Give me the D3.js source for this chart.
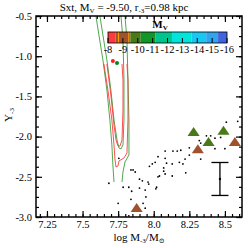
<!DOCTYPE html>
<html>
<head>
<script src="https://d3js.org/d3.v7.min.js"></script>
<style>
  body { margin: 0; background: #fff; }
  text { font-family: "Liberation Serif", "DejaVu Serif", serif; }
</style>
</head>
<body>
<div id="chart"></div>
<script>
// ========= Data ========= //
const xTicks = [7.25, 7.5, 7.75, 8.0, 8.25, 8.5];
const xTickLabels = ['7.25', '7.5', '7.75', '8.0', '8.25', '8.5'];
const yTicks = [-0.5, -1.0, -1.5, -2.0, -2.5, -3.0];
const yTickLabels = ['-0.5', '-1.0', '-1.5', '-2.0', '-2.5', '-3.0'];

// small black points (log M, Y)
const pointsX = [8.51, 8.59, 8.37, 8.40, 8.43, 8.47, 8.32, 8.33, 8.25, 8.19, 8.135, 8.165, 8.08, 8.25, 8.03, 8.08,
  8.22, 8.33, 8.43, 8.50, 8.01, 8.09, 8.13, 8.18, 8.205, 7.99, 7.97, 8.07, 8.07, 7.755, 7.84, 7.855, 7.87, 8.08,
  8.13, 8.225, 8.04, 8.03, 7.90, 7.92, 7.96, 7.965, 7.685, 7.785, 7.825, 7.845, 7.90, 7.94, 8.02, 8.015, 7.945,
  7.84, 7.75, 7.925, 7.94, 7.825];
const pointsY = [-1.82, -1.81, -1.99, -1.99, -2.02, -2.01, -2.05, -2.08, -2.14, -2.17, -2.18, -2.18, -2.18, -2.23, -2.25, -2.27,
  -2.28, -2.28, -2.15, -2.15, -2.32, -2.33, -2.34, -2.32, -2.34, -2.34, -2.37, -2.39, -2.43, -2.27, -2.415, -2.415, -2.44, -2.465,
  -2.49, -2.45, -2.49, -2.50, -2.53, -2.55, -2.565, -2.59, -2.58, -2.63, -2.63, -2.68, -2.64, -2.665, -2.63, -2.65, -2.75,
  -2.78, -2.83, -2.83, -2.89, -2.985];

// triangles
const triBrownX = [7.88, 8.31, 8.57];
const triBrownY = [-2.90, -2.17, -2.08];
const triGreenX = [8.28, 8.49, 8.385];
const triGreenY = [-1.955, -1.94, -2.08];

// error bar
const errX = 8.465, errY = -2.527, errHalf = 0.205;

// contour lines [x, y]
const greenOuterLeft = [[7.594, -0.5], [7.615, -0.736], [7.643, -1.047], [7.671, -1.42], [7.692, -1.794], [7.706, -2.104], [7.713, -2.353], [7.721, -2.565]];
const greenInner = [[7.622, -0.5], [7.643, -0.736], [7.671, -1.047], [7.699, -1.42], [7.721, -1.794], [7.742, -2.042], [7.756, -2.142], [7.770, -2.154], [7.784, -2.104], [7.791, -1.794], [7.791, -1.296], [7.784, -0.799], [7.770, -0.5]];
const greenOuterRight = [[7.798, -0.5], [7.812, -0.799], [7.819, -1.296], [7.826, -1.794], [7.826, -2.229], [7.798, -2.316], [7.784, -2.44], [7.777, -2.565]];
const redOuter = [[7.650, -1.097], [7.678, -1.42], [7.706, -1.794], [7.721, -2.104], [7.728, -2.291], [7.735, -2.378], [7.749, -2.366], [7.756, -2.303], [7.791, -2.266], [7.812, -2.204], [7.819, -1.794], [7.819, -1.296], [7.812, -1.097]];
const redInner = [[7.671, -1.097], [7.699, -1.483], [7.721, -1.856], [7.735, -2.042], [7.749, -2.117], [7.763, -2.117], [7.777, -2.042], [7.784, -1.669], [7.784, -1.296], [7.777, -1.097]];

const redDot = [7.713, -1.06];
const greenDot = [7.742, -1.085];

// colour bar
const cbTicks = [-8, -9, -10, -11, -12, -13, -14, -15, -16];
const cbStops = [-8, -8.5, -9.5, -10.2, -11.2, -12.3, -13.6, -14.6, -15.4, -16];
const cbColors = ['#ff3a3a', '#a0522d', '#4a7a18', '#12962a', '#00c48c', '#00e4dc', '#18c8f0', '#30a4ee', '#4064e0'];
const cbMarks = [-8.7, -9.4];

// ========= Setup ========= //
const width = 248, height = 248;
const margin = { left: 36, right: 6, top: 16, bottom: 31 };

const svg = d3.select('#chart').append('svg')
  .attr('width', width)
  .attr('height', height);

const x = d3.scaleLinear().domain([7.173, 8.62]).range([margin.left, width - margin.right]);
const y = d3.scaleLinear().domain([-0.5, -3.0]).range([margin.top, height - margin.bottom]);

const plotW = width - margin.left - margin.right;
const plotH = height - margin.top - margin.bottom;

svg.append('clipPath').attr('id', 'clip')
  .append('rect')
  .attr('x', margin.left).attr('y', margin.top)
  .attr('width', plotW).attr('height', plotH);

// ========= Contours ========= //
const line = d3.line().x(d => x(d[0])).y(d => y(d[1]));
const lines = svg.append('g').attr('clip-path', 'url(#clip)');
[[greenOuterLeft, '#3a9e3a'], [greenInner, '#3a9e3a'], [greenOuterRight, '#3a9e3a'],
 [redOuter, '#ff3c3c'], [redInner, '#ff3c3c']].forEach(([pts, c]) => {
  lines.append('path').attr('d', line(pts))
    .attr('fill', 'none').attr('stroke', c).attr('stroke-width', 0.9);
});

// ========= Colour bar ========= //
const cb = d3.scaleLinear().domain([-8, -16]).range([108, 227]);
const cbTop = 32, cbH = 11;
const cbG = svg.append('g');
cbColors.forEach((c, i) => {
  cbG.append('rect')
    .attr('x', cb(cbStops[i])).attr('y', cbTop)
    .attr('width', cb(cbStops[i + 1]) - cb(cbStops[i])).attr('height', cbH)
    .attr('fill', c);
});
cbMarks.forEach(v => {
  cbG.append('line').attr('x1', cb(v)).attr('x2', cb(v))
    .attr('y1', cbTop).attr('y2', cbTop + cbH)
    .attr('stroke', '#ffa500').attr('stroke-width', 1);
});
cbTicks.forEach(v => {
  cbG.append('line').attr('x1', cb(v)).attr('x2', cb(v))
    .attr('y1', cbTop + cbH).attr('y2', cbTop + cbH - 5)
    .attr('stroke', '#000').attr('stroke-width', 1);
  cbG.append('text').attr('x', cb(v)).attr('y', cbTop + cbH + 10)
    .attr('text-anchor', 'middle').attr('font-size', 10.5).text(v);
});
cbG.append('rect').attr('x', cb(-8)).attr('y', cbTop)
  .attr('width', cb(-16) - cb(-8)).attr('height', cbH)
  .attr('fill', 'none').attr('stroke', '#000').attr('stroke-width', 0.8);
const mvLabel = cbG.append('text').attr('x', 160).attr('y', 28)
  .attr('text-anchor', 'middle').attr('font-size', 11).attr('font-weight', 'bold');
mvLabel.append('tspan').text('M');
mvLabel.append('tspan').attr('font-size', 7).attr('dy', 2).text('V');

// dots near top of contours
svg.append('circle').attr('cx', x(redDot[0])).attr('cy', y(redDot[1])).attr('r', 2).attr('fill', '#ff2020');
svg.append('circle').attr('cx', x(greenDot[0])).attr('cy', y(greenDot[1])).attr('r', 2).attr('fill', '#008a20');

// ========= Points ========= //
svg.append('g').selectAll('circle')
  .data(pointsX.map((v, i) => [v, pointsY[i]]))
  .join('circle')
  .attr('cx', d => x(d[0])).attr('cy', d => y(d[1]))
  .attr('r', 0.9).attr('fill', '#000');

const tri = d3.symbol().type(d3.symbolTriangle).size(48);
function triangles(xs, ys, color) {
  svg.append('g').selectAll('path')
    .data(xs.map((v, i) => [v, ys[i]]))
    .join('path')
    .attr('d', tri)
    .attr('transform', d => `translate(${x(d[0])},${y(d[1])}) scale(1.15,1)`)
    .attr('fill', color);
}
triangles(triBrownX, triBrownY, '#a0522d');
triangles(triGreenX, triGreenY, '#4a7a18');

// ========= Error bar ========= //
const eb = svg.append('g').attr('stroke', '#000').attr('stroke-width', 1.3);
eb.append('line').attr('x1', x(errX)).attr('x2', x(errX)).attr('y1', y(errY + errHalf)).attr('y2', y(errY - errHalf));
eb.append('line').attr('x1', x(errX) - 8.5).attr('x2', x(errX) + 8.5).attr('y1', y(errY + errHalf)).attr('y2', y(errY + errHalf));
eb.append('line').attr('x1', x(errX) - 8.5).attr('x2', x(errX) + 8.5).attr('y1', y(errY - errHalf)).attr('y2', y(errY - errHalf));
svg.append('circle').attr('cx', x(errX)).attr('cy', y(errY)).attr('r', 1.2).attr('fill', '#000');

// ========= Axes ========= //
const xMinor = d3.range(7.2, 8.62, 0.05);
const yMinor = d3.range(-0.5, -3.01, -0.125);

function axisStyle(g) {
  g.select('.domain').remove();
  g.selectAll('line').attr('stroke', '#000').attr('stroke-width', 1.2);
  g.selectAll('text').attr('font-size', 10.5).attr('fill', '#000')
    .style('font-family', '"Liberation Serif", serif');
}

svg.append('g').attr('transform', `translate(0,${height - margin.bottom})`)
  .call(d3.axisBottom(x).tickValues(xMinor).tickSize(-3).tickFormat(''))
  .call(axisStyle);
svg.append('g').attr('transform', `translate(0,${margin.top})`)
  .call(d3.axisTop(x).tickValues(xMinor).tickSize(-3).tickFormat(''))
  .call(axisStyle);
svg.append('g').attr('transform', `translate(0,${height - margin.bottom})`)
  .call(d3.axisBottom(x).tickValues(xTicks).tickSize(-6).tickPadding(4).tickFormat((d, i) => xTickLabels[i]))
  .call(axisStyle);
svg.append('g').attr('transform', `translate(0,${margin.top})`)
  .call(d3.axisTop(x).tickValues(xTicks).tickSize(-6).tickFormat(''))
  .call(axisStyle);

svg.append('g').attr('transform', `translate(${margin.left},0)`)
  .call(d3.axisLeft(y).tickValues(yMinor).tickSize(-3).tickFormat(''))
  .call(axisStyle);
svg.append('g').attr('transform', `translate(${width - margin.right},0)`)
  .call(d3.axisRight(y).tickValues(yMinor).tickSize(-3).tickFormat(''))
  .call(axisStyle);
svg.append('g').attr('transform', `translate(${margin.left},0)`)
  .call(d3.axisLeft(y).tickValues(yTicks).tickSize(-6).tickPadding(4).tickFormat((d, i) => yTickLabels[i]))
  .call(axisStyle);
svg.append('g').attr('transform', `translate(${width - margin.right},0)`)
  .call(d3.axisRight(y).tickValues(yTicks).tickSize(-6).tickFormat(''))
  .call(axisStyle);

svg.append('rect')
  .attr('x', margin.left).attr('y', margin.top)
  .attr('width', plotW).attr('height', plotH)
  .attr('fill', 'none').attr('stroke', '#000').attr('stroke-width', 1.5);

// ========= Labels ========= //
const title = svg.append('text').attr('x', 124).attr('y', 11)
  .attr('text-anchor', 'middle').attr('font-size', 11);
title.append('tspan').text('Sxt, M');
title.append('tspan').attr('font-size', 7).attr('dy', 2).text('V');
title.append('tspan').attr('dy', -2).text(' = -9.50, r');
title.append('tspan').attr('font-size', 7).attr('dy', 2).text('-3');
title.append('tspan').attr('dy', -2).text('=0.98 kpc');

const xl = svg.append('text').attr('x', 139).attr('y', 241)
  .attr('text-anchor', 'middle').attr('font-size', 11);
xl.append('tspan').text('log M');
xl.append('tspan').attr('font-size', 7).attr('dy', 2).text('-3');
xl.append('tspan').attr('dy', -2).text('/M');
xl.append('tspan').attr('font-size', 7).attr('dy', 2).text('\u2299');

const yl = svg.append('text')
  .attr('transform', 'translate(12,115) rotate(-90)')
  .attr('text-anchor', 'middle').attr('font-size', 11);
yl.append('tspan').text('Y');
yl.append('tspan').attr('font-size', 7).attr('dy', 2).text('-3');
</script>
</body>
</html>
